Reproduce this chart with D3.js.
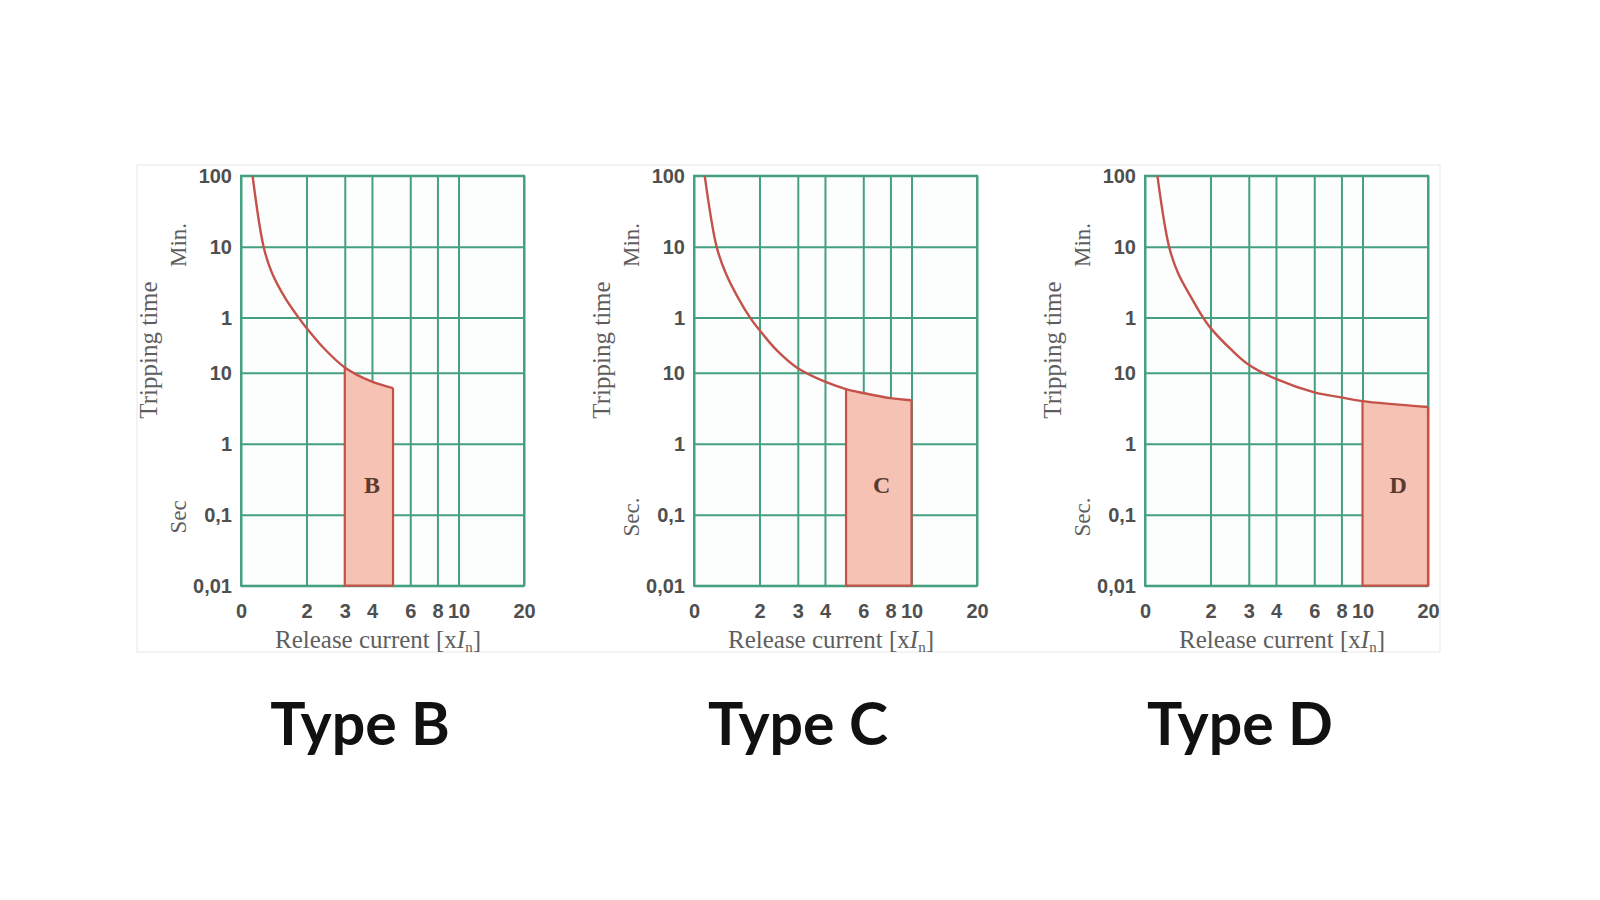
<!DOCTYPE html>
<html lang="en">
<head>
    <meta charset="UTF-8">
    <title>MCB tripping curves B C D</title>
    <script src="https://cdn.jsdelivr.net/npm/d3@7"></script>
    <style>
      body { margin: 0; background: #fff; }
      .tick text { font-family: "Liberation Sans", Arial, sans-serif; font-weight: bold; font-size: 20px; fill: #4f4f4f; }
      .serif { font-family: "Liberation Serif", "DejaVu Serif", serif; fill: #5e5e5e; }
    </style>
</head>
<body>
    <script>
      // chart data
      const types = ["B", "C", "D"];
      const bandStart = [3, 5, 10];
      const bandEnd = [5, 10, 20];
      const secLabel = ["Sec", "Sec.", "Sec."];

      // tripping curves: multiple of In -> time in seconds
      const curveXB = [1.13, 1.27, 1.39, 1.6, 1.84, 2, 2.41, 3, 4, 5];
      const curveTB = [6000, 600, 253, 112, 60, 43, 22, 11.9, 7.5, 6.1];
      const curveXC = [1.12, 1.27, 1.4, 1.6, 1.81, 2, 2.43, 3, 4, 5, 6, 8, 10];
      const curveTC = [6000, 600, 253, 112, 60, 40, 20, 11.6, 7.5, 5.9, 5.2, 4.4, 4.1];
      const curveXD = [1.14, 1.29, 1.42, 1.64, 1.85, 2, 2.5, 3, 4, 6, 8, 10, 20];
      const curveTD = [6000, 600, 253, 112, 60, 43, 21, 13, 8.2, 5.3, 4.5, 4.0, 3.3];

      const xTicks = [1, 2, 3, 4, 6, 8, 10, 20];
      const xTickLabels = ["0", "2", "3", "4", "6", "8", "10", "20"];
      const yTicks = [0.01, 0.1, 1, 10, 60, 600, 6000];
      const yTickLabels = ["0,01", "0,1", "1", "10", "1", "10", "100"];

      const curvesX = [curveXB, curveXC, curveXD];
      const curvesT = [curveTB, curveTC, curveTD];

      const W = 1600, H = 900;
      const pw = 283, ph = 410;
      const plotTop = 175.7;
      const lefts = [241, 694, 1145];
      const titleX = [360, 798, 1240];

      const gridColor = "#45a07f";
      const curveColor = "#c4524a";
      const fillColor = "#f6c2b4";

      const svg = d3.select("body")
                    .append("svg")
                    .attr("width", W)
                    .attr("height", H);

      // faint frame round the three charts
      svg.append("rect")
         .attr("x", 137).attr("y", 165)
         .attr("width", 1303).attr("height", 487)
         .attr("fill", "none")
         .attr("stroke", "#efefef")
         .attr("stroke-width", 1.5);

      const x = d3.scaleLog().domain([1, 20]).range([0, pw]);
      const y = d3.scaleLog().domain([0.01, 6000]).range([ph, 0]);

      types.forEach((type, k) => {
        const g = svg.append("g")
                     .attr("transform", `translate(${lefts[k]}, ${plotTop})`);

        g.append("rect")
         .attr("width", pw).attr("height", ph)
         .attr("fill", "#fbfefd");

        // vertical grid + x tick labels
        const xAxis = d3.axisBottom(x)
                        .tickValues(xTicks)
                        .tickSize(-ph)
                        .tickPadding(18)
                        .tickFormat((d, i) => xTickLabels[i]);
        const gx = g.append("g")
                    .attr("transform", `translate(0, ${ph})`)
                    .call(xAxis);

        // horizontal grid + y tick labels
        const yAxis = d3.axisLeft(y)
                        .tickValues(yTicks)
                        .tickSize(-pw)
                        .tickPadding(9)
                        .tickFormat((d, i) => yTickLabels[i]);
        const gy = g.append("g").call(yAxis);

        [gx, gy].forEach(a => {
          a.select(".domain").remove();
          a.selectAll(".tick line")
           .attr("stroke", gridColor)
           .attr("stroke-width", 2);
        });

        g.append("rect")
         .attr("width", pw).attr("height", ph)
         .attr("fill", "none")
         .attr("stroke", gridColor)
         .attr("stroke-width", 2);

        const pts = curvesX[k].map((v, i) => [v, curvesT[k][i]]);
        const smooth = d3.curveCatmullRom.alpha(0.5);

        // shaded release band, clipped to its current range
        const clipId = "band" + type;
        g.append("clipPath")
         .attr("id", clipId)
         .append("rect")
         .attr("x", x(bandStart[k]))
         .attr("width", x(bandEnd[k]) - x(bandStart[k]))
         .attr("height", ph);

        const area = d3.area()
                       .x(d => x(d[0]))
                       .y0(y(0.01))
                       .y1(d => y(d[1]))
                       .curve(smooth);
        g.append("path")
         .datum(pts)
         .attr("d", area)
         .attr("clip-path", `url(#${clipId})`)
         .attr("fill", fillColor);

        const tStart = pts.find(p => p[0] === bandStart[k])[1];
        const tEnd = pts.find(p => p[0] === bandEnd[k])[1];
        const edge = d3.line().x(d => x(d[0])).y(d => y(d[1]));
        g.append("path")
         .datum([[bandStart[k], tStart], [bandStart[k], 0.01], [bandEnd[k], 0.01], [bandEnd[k], tEnd]])
         .attr("d", edge)
         .attr("fill", "none")
         .attr("stroke", curveColor)
         .attr("stroke-width", 2.2);

        const line = d3.line()
                       .x(d => x(d[0]))
                       .y(d => y(d[1]))
                       .curve(smooth);
        g.append("path")
         .datum(pts)
         .attr("d", line)
         .attr("fill", "none")
         .attr("stroke", curveColor)
         .attr("stroke-width", 2.4);

        g.append("text")
         .attr("class", "serif")
         .attr("x", x(Math.sqrt(bandStart[k] * bandEnd[k])) + 3)
         .attr("y", 317)
         .attr("text-anchor", "middle")
         .attr("font-size", 24)
         .attr("font-weight", "bold")
         .style("fill", "#5b3a2e")
         .text(type);

        // axis titles
        g.append("text")
         .attr("class", "serif")
         .attr("transform", `translate(-84, ${350 - plotTop}) rotate(-90)`)
         .attr("text-anchor", "middle")
         .attr("font-size", 25)
         .text("Tripping time");

        g.append("text")
         .attr("class", "serif")
         .attr("transform", `translate(-55, ${245 - plotTop}) rotate(-90)`)
         .attr("text-anchor", "middle")
         .attr("font-size", 23)
         .text("Min.");

        g.append("text")
         .attr("class", "serif")
         .attr("transform", `translate(-55, ${517 - plotTop}) rotate(-90)`)
         .attr("text-anchor", "middle")
         .attr("font-size", 23)
         .text(secLabel[k]);

        const xl = g.append("text")
                    .attr("class", "serif")
                    .attr("x", 378 - 241)
                    .attr("y", 648 - plotTop)
                    .attr("text-anchor", "middle")
                    .attr("font-size", 25);
        xl.append("tspan").text("Release current [x");
        xl.append("tspan").attr("font-style", "italic").text("I");
        xl.append("tspan").attr("font-size", 15).attr("dy", 4).text("n");
        xl.append("tspan").attr("dy", -4).text("]");

        svg.append("text")
           .attr("x", titleX[k])
           .attr("y", 745)
           .attr("text-anchor", "middle")
           .attr("font-family", "Lato, 'Open Sans', sans-serif")
           .attr("font-weight", "bold")
           .attr("font-size", 59)
           .attr("fill", "#111")
           .text("Type " + type);
      });
    </script>
</body>
</html>
